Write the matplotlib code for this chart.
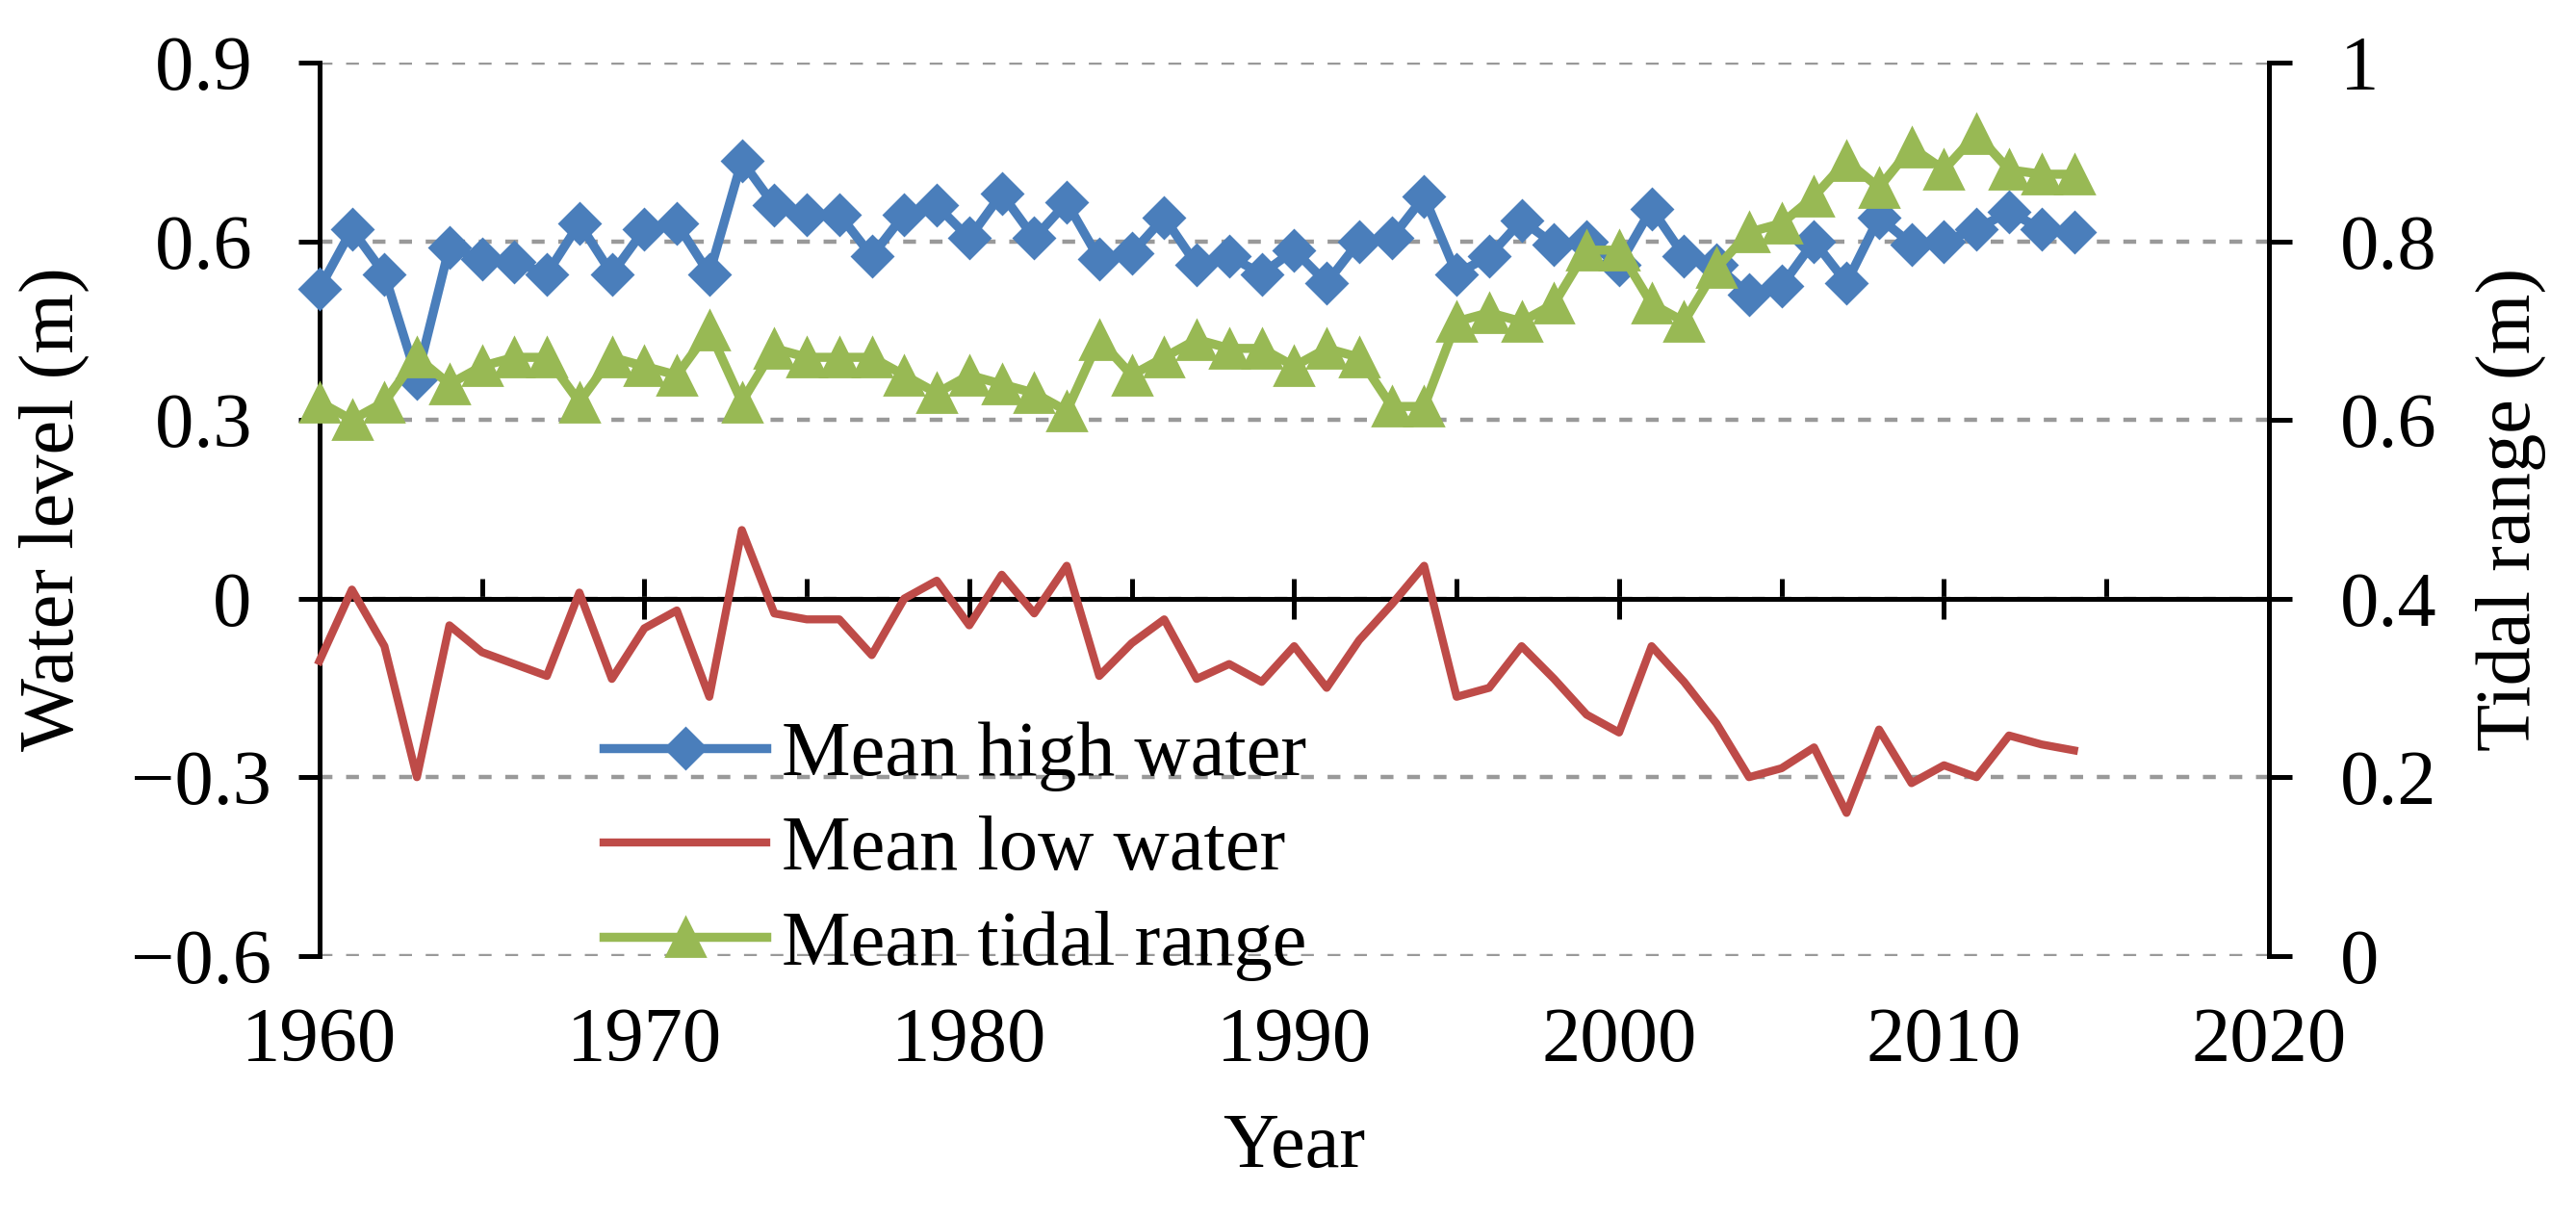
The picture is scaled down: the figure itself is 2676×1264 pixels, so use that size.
import matplotlib
matplotlib.use('Agg')
import matplotlib.pyplot as plt
from matplotlib.ticker import MultipleLocator, FuncFormatter

plt.rcParams['font.family'] = ['Liberation Serif', 'DejaVu Serif']

years = list(range(1960, 2015))

mean_high = [0.52, 0.62, 0.545, 0.37, 0.59, 0.57, 0.565, 0.545, 0.63, 0.545,
             0.62, 0.63, 0.545, 0.735, 0.66, 0.645, 0.645, 0.575, 0.645, 0.66,
             0.605, 0.68, 0.605, 0.665, 0.57, 0.58, 0.64, 0.56, 0.575, 0.545,
             0.585, 0.53, 0.60, 0.605, 0.675, 0.545, 0.575, 0.635, 0.595, 0.60,
             0.56, 0.655, 0.575, 0.56, 0.51, 0.525, 0.60, 0.53, 0.64, 0.595,
             0.60, 0.62, 0.65, 0.62, 0.615]

mean_low = [-0.105, 0.015, -0.08, -0.30, -0.045, -0.09, -0.11, -0.13, 0.01, -0.135,
            -0.05, -0.02, -0.165, 0.115, -0.025, -0.035, -0.035, -0.095, 0.0, 0.03,
            -0.045, 0.04, -0.025, 0.055, -0.13, -0.075, -0.035, -0.135, -0.11, -0.14,
            -0.08, -0.15, -0.07, -0.01, 0.055, -0.165, -0.15, -0.08, -0.135, -0.195,
            -0.225, -0.08, -0.14, -0.21, -0.30, -0.285, -0.25, -0.36, -0.22, -0.31,
            -0.28, -0.30, -0.23, -0.245, -0.255]

tidal_range = [0.62, 0.60, 0.62, 0.67, 0.64, 0.66, 0.67, 0.67, 0.62, 0.67,
               0.66, 0.65, 0.70, 0.62, 0.68, 0.67, 0.67, 0.67, 0.65, 0.63,
               0.65, 0.64, 0.63, 0.61, 0.69, 0.65, 0.67, 0.69, 0.68, 0.68,
               0.66, 0.68, 0.67, 0.615, 0.615, 0.71, 0.72, 0.71, 0.73, 0.79,
               0.79, 0.73, 0.71, 0.77, 0.81, 0.82, 0.85, 0.89, 0.86, 0.905,
               0.88, 0.92, 0.88, 0.875, 0.875]

left_ticks = [-0.6, -0.3, 0, 0.3, 0.6, 0.9]
right_ticks = [0, 0.2, 0.4, 0.6, 0.8, 1.0]

blue = '#4A7EBB'
red = '#BE4B48'
green = '#98B954'
fs = 29


def left_fmt(v, pos):
    if abs(v) < 1e-9:
        return '0 '
    if v > 0:
        return f'{v:.1f} '
    return f'\u2212{abs(v):.1f}'


def right_fmt(v, pos):
    if abs(v) < 1e-9:
        return '0'
    if abs(v - 1) < 1e-9:
        return '1'
    return f'{v:.1f}'


fig = plt.figure(figsize=(13.38, 6.32), dpi=200)
ax = fig.add_axes([0.124, 0.2146, 0.7568, 0.734])
ax2 = ax.twinx()

l_high, = ax.plot(years, mean_high, color=blue, lw=3.4, marker='D', markersize=10.5,
                  label='Mean high water', zorder=3, clip_on=False)
l_low, = ax.plot(years, mean_low, color=red, lw=3.0, label='Mean low water',
                 zorder=3, clip_on=False)
l_tide, = ax2.plot(years, tidal_range, color=green, lw=3.4, marker='^', markersize=14.5,
                   label='Mean tidal range', zorder=3, clip_on=False)

ax.set_xlim(1960, 2020)
ax.set_ylim(-0.6, 0.9)
ax2.set_ylim(0, 1)

ax.set_yticks(left_ticks)
ax.yaxis.set_major_formatter(FuncFormatter(left_fmt))
ax2.set_yticks(right_ticks)
ax2.yaxis.set_major_formatter(FuncFormatter(right_fmt))

ax.grid(axis='y', color='#999999', lw=1.6, linestyle=(0, (3.0, 3.2)))
ax.set_axisbelow(True)

# x axis line sits at zero, labels stay at the bottom
ax.spines['bottom'].set_position(('data', 0))
ax.spines['top'].set_visible(False)
ax.spines['right'].set_visible(False)
for side in ['top', 'bottom', 'left']:
    ax2.spines[side].set_visible(False)
for sp in [ax.spines['bottom'], ax.spines['left'], ax2.spines['right']]:
    sp.set_linewidth(1.8)
    sp.set_color('black')

ax.xaxis.set_major_locator(MultipleLocator(10))
ax.xaxis.set_minor_locator(MultipleLocator(5))
ax.tick_params(axis='x', which='major', direction='inout', length=15, width=1.8,
               labelbottom=False)
ax.tick_params(axis='x', which='minor', direction='in', length=7.5, width=1.8)
ax.tick_params(axis='y', direction='out', length=8, width=1.8, pad=10, labelsize=fs)
ax2.tick_params(axis='y', direction='out', length=8.5, width=1.8, pad=18, labelsize=fs)

sec = ax.secondary_xaxis('bottom')
sec.set_xticks(range(1960, 2021, 10))
sec.tick_params(length=0, pad=19, labelsize=fs)
sec.spines['bottom'].set_visible(False)

ax.set_xlabel('Year', fontsize=fs, va='center')
ax.xaxis.set_label_coords(0.5, -0.215)
ax.set_ylabel('Water level (m)', fontsize=fs, va='center')
ax.yaxis.set_label_coords(-0.136, 0.5)
ax2.set_ylabel('Tidal range (m)', fontsize=fs, va='center', rotation=90)
ax2.yaxis.set_label_coords(1.124, 0.5)

ax2.legend(handles=[l_high, l_low, l_tide], loc='center left',
           bbox_to_anchor=(0.2343, 0.3010), bbox_transform=fig.transFigure,
           frameon=False, fontsize=fs, handlelength=2.1, handletextpad=0.2,
           labelspacing=0.31, borderpad=0, borderaxespad=0, numpoints=1)

fig.savefig('out.png', dpi=200)
